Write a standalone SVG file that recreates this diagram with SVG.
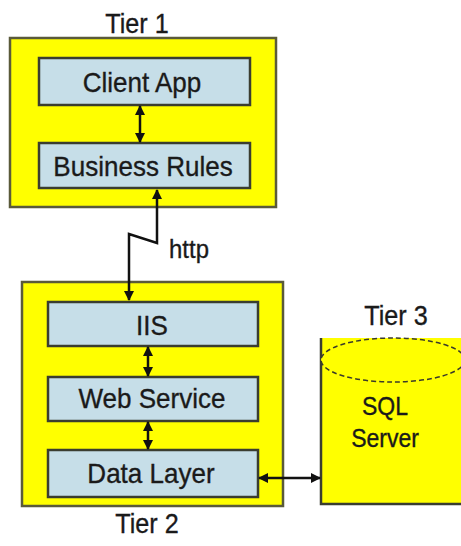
<svg xmlns="http://www.w3.org/2000/svg" width="461" height="546" viewBox="0 0 461 546">
<defs>
<style>
.tier{fill:#FFFF00;stroke:#5a5a3a;stroke-width:2.5}
.box{fill:#C6DEE8;stroke:#3a3d30;stroke-width:2.5}
.t{font-family:"Liberation Sans",Arial,sans-serif;fill:#1a1a1a;stroke:#1a1a1a;stroke-width:0.35;text-anchor:middle}
.lbl{font-size:28px}
.conn{stroke:#111;stroke-width:2.5;fill:none}
</style>
<marker id="ah" viewBox="0 0 10 10" refX="9" refY="5" markerWidth="4" markerHeight="4" orient="auto-start-reverse">
<path d="M0,0 L10,5 L0,10 z" fill="#111"/>
</marker>
</defs>
<rect width="461" height="546" fill="#ffffff"/>

<g id="tier1">
<rect class="tier" x="10" y="38" width="266" height="169"/>
<text class="t" transform="translate(137,33) scale(0.9,1)" font-size="28">Tier 1</text>
</g>
<g id="client-app">
<rect class="box" x="39" y="58" width="211" height="47"/>
<text class="t lbl" transform="translate(142,92) scale(0.93,1)">Client App</text>
</g>
<g id="business-rules">
<rect class="box" x="39" y="143" width="211" height="45"/>
<text class="t lbl" transform="translate(143,176) scale(0.93,1)">Business Rules</text>
</g>

<g id="tier2">
<rect class="tier" x="22" y="282" width="261" height="224"/>
<text class="t" transform="translate(147,533) scale(0.9,1)" font-size="28">Tier 2</text>
</g>
<g id="iis">
<rect class="box" x="48" y="302" width="210" height="44"/>
<text class="t lbl" transform="translate(152,335) scale(0.93,1)">IIS</text>
</g>
<g id="web-service">
<rect class="box" x="48" y="377" width="210" height="44"/>
<text class="t lbl" transform="translate(152,408) scale(0.93,1)">Web Service</text>
</g>
<g id="data-layer">
<rect class="box" x="48" y="450" width="210" height="47"/>
<text class="t lbl" transform="translate(151,483) scale(0.93,1)">Data Layer</text>
</g>

<g id="sql-server">
<text class="t" transform="translate(396,325) scale(0.9,1)" font-size="28">Tier 3</text>
<path d="M321,338 H470 V504 H321 Z" fill="#FFFF00" stroke="none"/>
<path d="M321,338 V504 H470" fill="none" stroke="#3a3d30" stroke-width="2.5"/>
<ellipse cx="393" cy="360" rx="72" ry="22" fill="#FFFF00" stroke="#3a3a2a" stroke-width="1.5" stroke-dasharray="5,3"/>
<text class="t" transform="translate(385,415) scale(0.92,1)" font-size="25">SQL</text>
<text class="t" transform="translate(385,447) scale(0.92,1)" font-size="25">Server</text>
</g>

<g id="connectors">
<line class="conn" x1="140" y1="106" x2="140" y2="142" marker-start="url(#ah)" marker-end="url(#ah)"/>
<polyline class="conn" points="157,190 157,243 129,234 129,300" marker-start="url(#ah)" marker-end="url(#ah)"/>
<text class="t" transform="translate(189,258) scale(0.92,1)" font-size="26">http</text>
<line class="conn" x1="148" y1="347" x2="148" y2="376" marker-start="url(#ah)" marker-end="url(#ah)"/>
<line class="conn" x1="148" y1="422" x2="148" y2="449" marker-start="url(#ah)" marker-end="url(#ah)"/>
<line class="conn" x1="259" y1="478" x2="320" y2="478" marker-start="url(#ah)" marker-end="url(#ah)"/>
</g>
</svg>
